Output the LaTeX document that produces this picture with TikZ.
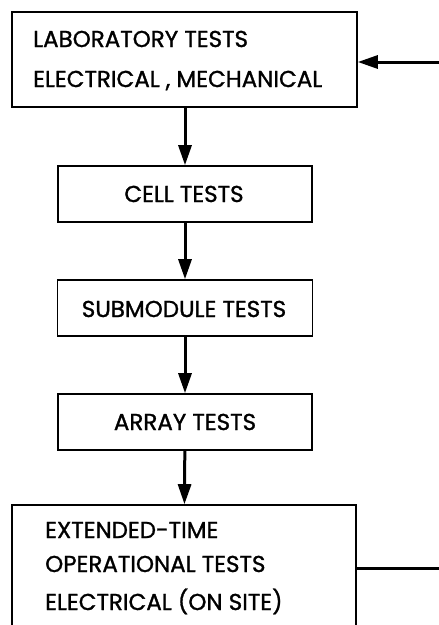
\documentclass[tikz,border=0pt]{standalone}
\usepackage{fontspec}
\setmainfont{Poppins}[FakeBold=1.2]
\usetikzlibrary{arrows.meta}
\tikzset{
  box/.style={draw, line width=1.6pt, minimum width=#1, inner sep=0pt},
  lbl/.style={font=\fontsize{23}{23}\selectfont, inner sep=0pt},
  flow/.style={line width=3pt, -{Triangle[length=20pt,width=13pt]}},
  ret/.style={line width=3pt}
}
\begin{document}
\begin{tikzpicture}[x=1pt,y=-1pt]
\useasboundingbox (0,0) rectangle (439,625);
\node[box=345pt, minimum height=95pt] (lab) at (184.5,59.5) {};
\node[box=254pt, minimum height=56pt] (cell) at (185,194) {};
\node[box=255pt, minimum height=56pt] (sub) at (185,308) {};
\node[box=254pt, minimum height=56pt] (arr) at (185,422) {};
\node[box=344pt, minimum height=140pt] (ext) at (184,575) {};
\node[lbl, anchor=base west] (t1) at (33,47) {LABORATORY TESTS};
\node[lbl, anchor=base west] (t2) at (33,87) {ELECTRICAL\hspace{6pt}, MECHANICAL};
\node[lbl, anchor=base] (t3) at (184,202) {CELL TESTS};
\node[lbl, anchor=base] (t4) at (184,317) {SUBMODULE TESTS};
\node[lbl, anchor=base] (t5) at (185,430) {ARRAY TESTS};
\node[lbl, anchor=base west] (t6) at (45,538) {EXTENDED-TIME};
\node[lbl, anchor=base west] (t7) at (45,572) {OPERATIONAL TESTS};
\node[lbl, anchor=base west] (t8) at (45,610) {ELECTRICAL (ON SITE)};
\coordinate (r1) at (442,568);
\coordinate (r2) at (442,62);
\draw[flow] (lab.south -| cell.north) -- (cell.north);
\draw[flow] (cell) -- (sub);
\draw[flow] (sub.south -| arr.north) -- (arr.north);
\draw[flow] (arr) -- (ext);
\draw[ret] (ext.east |- r1) -- (r1) -- (r2);
\draw[flow] (r2) -- (r2 -| lab.east);
\end{tikzpicture}
\end{document}
